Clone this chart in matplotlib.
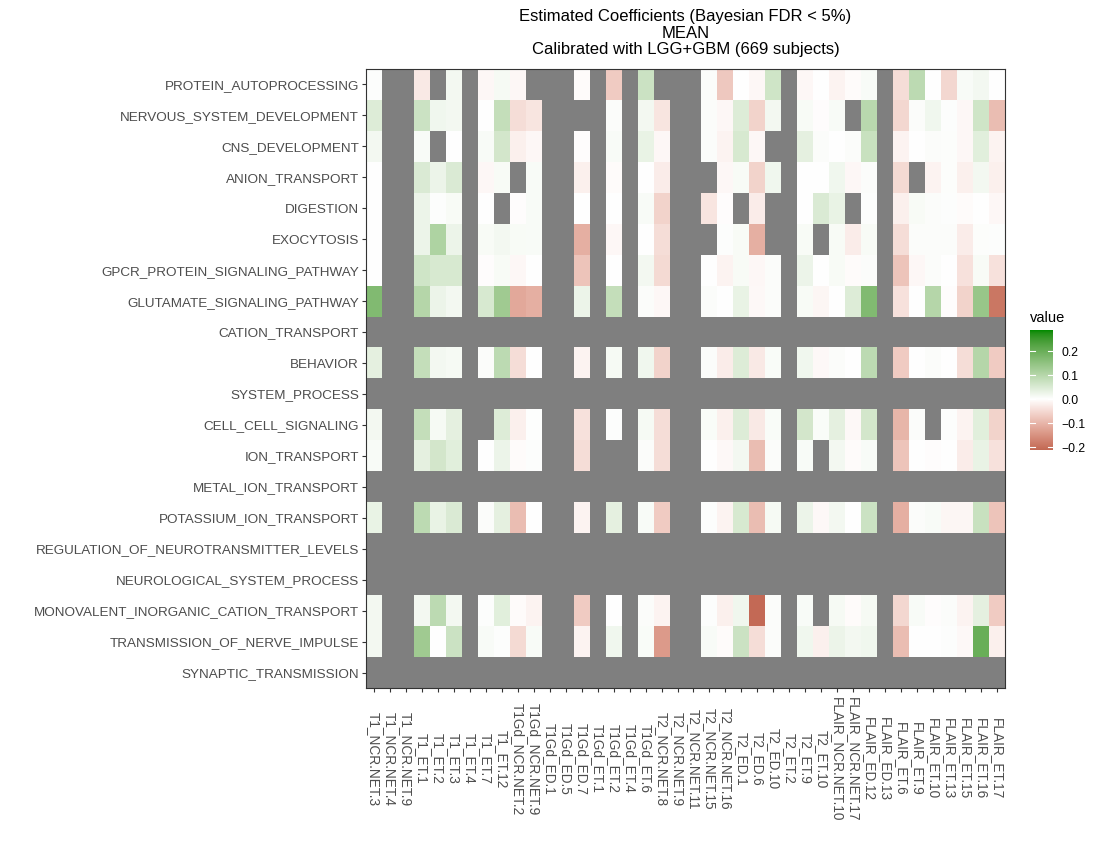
import numpy as np
import matplotlib
matplotlib.use("Agg")
import matplotlib.pyplot as plt
from matplotlib.colors import ListedColormap, Normalize

nan = np.nan

pathways = ["PROTEIN_AUTOPROCESSING", "NERVOUS_SYSTEM_DEVELOPMENT", "CNS_DEVELOPMENT",
            "ANION_TRANSPORT", "DIGESTION", "EXOCYTOSIS", "GPCR_PROTEIN_SIGNALING_PATHWAY",
            "GLUTAMATE_SIGNALING_PATHWAY", "CATION_TRANSPORT", "BEHAVIOR", "SYSTEM_PROCESS",
            "CELL_CELL_SIGNALING", "ION_TRANSPORT", "METAL_ION_TRANSPORT",
            "POTASSIUM_ION_TRANSPORT", "REGULATION_OF_NEUROTRANSMITTER_LEVELS",
            "NEUROLOGICAL_SYSTEM_PROCESS", "MONOVALENT_INORGANIC_CATION_TRANSPORT",
            "TRANSMISSION_OF_NERVE_IMPULSE", "SYNAPTIC_TRANSMISSION"]

features = ["T1_NCR.NET.3", "T1_NCR.NET.4", "T1_NCR.NET.9", "T1_ET.1", "T1_ET.2", "T1_ET.3",
            "T1_ET.4", "T1_ET.7", "T1_ET.12", "T1Gd_NCR.NET.2", "T1Gd_NCR.NET.9", "T1Gd_ED.1",
            "T1Gd_ED.5", "T1Gd_ED.7", "T1Gd_ET.1", "T1Gd_ET.2", "T1Gd_ET.4", "T1Gd_ET.6",
            "T2_NCR.NET.8", "T2_NCR.NET.9", "T2_NCR.NET.11", "T2_NCR.NET.15", "T2_NCR.NET.16",
            "T2_ED.1", "T2_ED.6", "T2_ED.10", "T2_ET.2", "T2_ET.9", "T2_ET.10",
            "FLAIR_NCR.NET.10", "FLAIR_NCR.NET.17", "FLAIR_ED.12", "FLAIR_ED.13", "FLAIR_ET.6",
            "FLAIR_ET.9", "FLAIR_ET.10", "FLAIR_ET.13", "FLAIR_ET.15", "FLAIR_ET.16", "FLAIR_ET.17"]

all_na = [nan] * 40

protein_autoprocessing = [0.003, nan, nan, -0.03, nan, 0.015, nan, -0.01, 0.012, -0.01, nan, nan, nan, -0.005, nan, -0.07, nan, 0.07, nan, nan,
                          nan, 0.005, -0.075, 0.0, -0.01, 0.065, nan, -0.01, 0.0, -0.015, -0.005, 0.008, nan, -0.045, 0.09, 0.0, -0.055, 0.008, 0.015, 0.0]
nervous_system_development = [0.045, nan, nan, 0.07, 0.02, 0.015, nan, 0.0, 0.08, -0.045, -0.035, nan, nan, nan, nan, 0.005, nan, 0.015, -0.035, nan,
                              nan, 0.005, -0.01, 0.045, -0.06, 0.015, nan, 0.01, -0.003, 0.008, nan, 0.095, nan, -0.055, 0.005, 0.02, 0.003, -0.01, 0.065, -0.09]
cns_development = [0.015, nan, nan, 0.008, nan, 0.0, nan, 0.008, 0.06, -0.02, -0.01, nan, nan, -0.003, nan, 0.008, nan, 0.03, -0.01, nan,
                   nan, 0.005, -0.015, 0.055, -0.01, nan, nan, 0.035, 0.005, 0.0, 0.005, 0.075, nan, -0.015, 0.0, 0.005, 0.004, -0.01, 0.04, -0.015]
anion_transport = [0.0, nan, nan, 0.05, 0.025, 0.05, nan, -0.01, 0.01, nan, 0.008, nan, nan, -0.02, nan, -0.005, nan, 0.0, -0.025, nan,
                   nan, nan, -0.01, 0.01, -0.06, 0.02, nan, 0.0, 0.0, 0.02, -0.01, 0.005, nan, -0.05, nan, -0.015, 0.004, -0.02, 0.015, -0.02]
digestion = [0.0, nan, nan, 0.025, 0.003, 0.01, nan, 0.0, nan, -0.003, 0.008, nan, nan, 0.0, nan, 0.0, nan, 0.008, -0.06, nan,
             nan, -0.035, -0.003, nan, -0.025, nan, nan, 0.0, 0.05, 0.03, nan, 0.003, nan, -0.02, 0.01, 0.005, 0.003, -0.005, 0.0, -0.01]
exocytosis = [0.0, nan, nan, 0.025, 0.11, 0.025, nan, 0.01, 0.015, 0.01, 0.008, nan, nan, -0.11, nan, -0.01, nan, 0.0, -0.045, nan,
              nan, nan, 0.003, 0.01, -0.11, nan, nan, 0.01, nan, 0.01, -0.025, 0.01, nan, -0.045, 0.005, 0.005, 0.005, -0.025, 0.004, 0.003]
gpcr_signaling = [0.0, nan, nan, 0.065, 0.055, 0.055, nan, -0.003, 0.01, -0.01, 0.0, nan, nan, -0.08, nan, 0.0, nan, 0.015, -0.05, nan,
                  nan, 0.0, -0.015, 0.01, -0.01, 0.005, nan, 0.025, 0.0, 0.01, -0.005, 0.005, nan, -0.08, -0.01, 0.005, 0.0, -0.04, 0.01, -0.04]
glutamate_signaling = [0.17, nan, nan, 0.1, 0.025, 0.015, nan, 0.055, 0.13, -0.12, -0.11, nan, nan, 0.025, nan, 0.08, nan, 0.005, -0.01, nan,
                       nan, 0.005, 0.0, 0.03, -0.008, 0.005, nan, 0.01, -0.012, 0.0, 0.045, 0.17, nan, -0.04, 0.0, 0.1, -0.003, -0.06, 0.14, -0.19]
cation_transport = all_na
behavior = [0.035, nan, nan, 0.08, 0.015, 0.012, nan, 0.005, 0.09, -0.045, 0.0, nan, nan, -0.015, nan, 0.012, nan, 0.02, -0.06, nan,
            nan, 0.005, -0.025, 0.045, -0.03, 0.007, nan, 0.02, -0.008, 0.005, 0.0, 0.09, nan, -0.07, 0.0, 0.005, 0.0, -0.045, 0.1, -0.07]
system_process = all_na
cell_cell_signaling = [0.015, nan, nan, 0.08, 0.012, 0.035, nan, nan, 0.045, -0.02, 0.002, nan, nan, -0.04, nan, 0.003, nan, 0.012, -0.045, nan,
                       nan, 0.007, -0.02, 0.045, -0.03, 0.007, nan, 0.06, 0.007, 0.035, -0.008, 0.06, nan, -0.1, 0.005, nan, 0.003, -0.015, 0.04, -0.06]
ion_transport = [0.008, nan, nan, 0.035, 0.06, 0.04, nan, 0.0, 0.025, -0.005, 0.003, nan, nan, -0.045, nan, nan, nan, 0.005, -0.045, nan,
                 nan, 0.0, -0.008, 0.015, -0.09, 0.005, nan, 0.008, nan, 0.015, -0.005, 0.008, nan, -0.08, 0.0, -0.003, 0.0, -0.025, 0.03, -0.04]
metal_ion_transport = all_na
potassium_ion_transport = [0.03, nan, nan, 0.09, 0.03, 0.05, nan, 0.005, 0.035, -0.09, 0.0, nan, nan, -0.015, nan, 0.035, nan, 0.008, -0.07, nan,
                           nan, 0.003, -0.015, 0.055, -0.09, 0.012, nan, 0.025, -0.008, 0.015, 0.0, 0.07, nan, -0.11, 0.005, 0.008, -0.012, -0.012, 0.075, -0.08]
regulation_neurotransmitter = all_na
neurological_system_process = all_na
monovalent_cation_transport = [0.015, nan, nan, 0.015, 0.09, 0.015, nan, 0.003, 0.04, -0.005, -0.015, nan, nan, -0.07, nan, 0.0, nan, 0.005, -0.015, nan,
                               nan, 0.003, -0.02, 0.02, -0.21, 0.005, nan, 0.008, nan, 0.012, -0.005, 0.012, nan, -0.055, 0.008, -0.003, 0.005, -0.015, 0.035, -0.07]
transmission_nerve_impulse = [0.015, nan, nan, 0.13, 0.0, 0.07, nan, 0.008, 0.003, -0.05, 0.008, nan, nan, -0.015, nan, 0.02, nan, 0.007, -0.14, nan,
                              nan, 0.008, -0.005, 0.07, -0.045, 0.005, nan, 0.02, -0.02, 0.025, 0.015, 0.02, nan, -0.09, 0.0, 0.0, 0.003, -0.008, 0.2, -0.02]
synaptic_transmission = all_na

rows = [protein_autoprocessing, nervous_system_development, cns_development, anion_transport,
        digestion, exocytosis, gpcr_signaling, glutamate_signaling, cation_transport, behavior,
        system_process, cell_cell_signaling, ion_transport, metal_ion_transport,
        potassium_ion_transport, regulation_neurotransmitter, neurological_system_process,
        monovalent_cation_transport, transmission_nerve_impulse, synaptic_transmission]

legend_min, legend_max = -0.2125, 0.2875
legend_ticks = [-0.2, -0.1, 0.0, 0.1, 0.2]

# ---------- Lab interpolation colormap (like ggplot gradient2) ----------
M = np.array([[0.4124564, 0.3575761, 0.1804375],
              [0.2126729, 0.7151522, 0.0721750],
              [0.0193339, 0.1191920, 0.9503041]])
Minv = np.linalg.inv(M)
wp = np.array([0.95047, 1.0, 1.08883])

def hex2rgb(h):
    h = h.lstrip('#')
    return np.array([int(h[i:i + 2], 16) / 255 for i in (0, 2, 4)])

def rgb2lab(c):
    c = np.where(c <= 0.04045, c / 12.92, ((c + 0.055) / 1.055) ** 2.4)
    xyz = M @ c / wp
    f = np.where(xyz > (6 / 29) ** 3, np.cbrt(xyz), xyz / (3 * (6 / 29) ** 2) + 4 / 29)
    return np.array([116 * f[1] - 16, 500 * (f[0] - f[1]), 200 * (f[1] - f[2])])

def lab2rgb(lab):
    L, a, b = lab
    fy = (L + 16) / 116
    fx = fy + a / 500
    fz = fy - b / 200
    f = np.array([fx, fy, fz])
    xyz = np.where(f > 6 / 29, f ** 3, 3 * (6 / 29) ** 2 * (f - 4 / 29)) * wp
    c = Minv @ xyz
    c = np.clip(c, 0, 1)
    c = np.where(c <= 0.0031308, 12.92 * c, 1.055 * c ** (1 / 2.4) - 0.055)
    return np.clip(c, 0, 1)

low_lab = rgb2lab(hex2rgb('#A3301E'))
mid_lab = rgb2lab(hex2rgb('#FFFFFF'))
high_lab = rgb2lab(hex2rgb('#008B00'))
cols = []
for t in np.linspace(0, 1, 512):
    if t < 0.5:
        s = t / 0.5
        lab = low_lab + (mid_lab - low_lab) * s
    else:
        s = (t - 0.5) / 0.5
        lab = mid_lab + (high_lab - mid_lab) * s
    cols.append(lab2rgb(lab))
cmap = ListedColormap(cols)
cmap.set_bad('#7F7F7F')
lim = max(abs(legend_min), abs(legend_max))
norm = Normalize(vmin=-lim, vmax=lim)

data = np.ma.masked_invalid(np.array(rows, dtype=float))

plt.rcParams['font.family'] = ['Liberation Sans', 'DejaVu Sans']
fig = plt.figure(figsize=(11, 8.5), dpi=100)
ax = fig.add_axes([366 / 1100, 1 - 688 / 850, 639 / 1100, 619 / 850])
ax.imshow(data, cmap=cmap, norm=norm, aspect='auto', interpolation='nearest')
ax.set_xlim(-0.5, len(features) - 0.5)
ax.set_ylim(len(pathways) - 0.5, -0.5)

ax.set_xticks(range(len(features)))
ax.set_xticklabels(features, rotation=-90, va='center', ha='center',
                   fontsize=9.8, color='#4D4D4D')
ax.set_yticks(range(len(pathways)))
ax.set_yticklabels(pathways, fontsize=9.7, color='#4D4D4D')
ax.tick_params(axis='x', length=3, width=0.8, color='#333333', pad=48)
ax.tick_params(axis='y', length=3, width=0.8, color='#333333', pad=2)
for sp in ax.spines.values():
    sp.set_color('#333333')
    sp.set_linewidth(0.8)

ax.set_title("Estimated Coefficients (Bayesian FDR < 5%)\nMEAN\nCalibrated with LGG+GBM (669 subjects)",
             fontsize=12, linespacing=1.1, pad=11)

# ---------- colour bar legend ----------
cax = fig.add_axes([1030 / 1100, 1 - 450 / 850, 23 / 1100, 120 / 850])
grad = np.linspace(legend_max, legend_min, 300).reshape(-1, 1)
cax.imshow(grad, cmap=cmap, norm=norm, aspect='auto',
           extent=[0, 1, legend_min, legend_max], interpolation='bilinear')
cax.set_xlim(0, 1)
cax.set_ylim(legend_min, legend_max)
cax.set_xticks([])
cax.set_yticks(legend_ticks)
cax.set_yticklabels([f"{v:.1f}".replace('-', '\u2212') for v in legend_ticks], fontsize=8.8)
cax.yaxis.tick_right()
cax.tick_params(axis='y', length=0, pad=6)
for sp in cax.spines.values():
    sp.set_visible(False)
for v in legend_ticks:
    cax.plot([0, 0.2], [v, v], color='white', lw=0.8)
    cax.plot([0.8, 1], [v, v], color='white', lw=0.8)
fig.text(1030 / 1100, 1 - 318 / 850, "value", fontsize=10.5, ha='left', va='center')

fig.savefig("out.png", dpi=100)
